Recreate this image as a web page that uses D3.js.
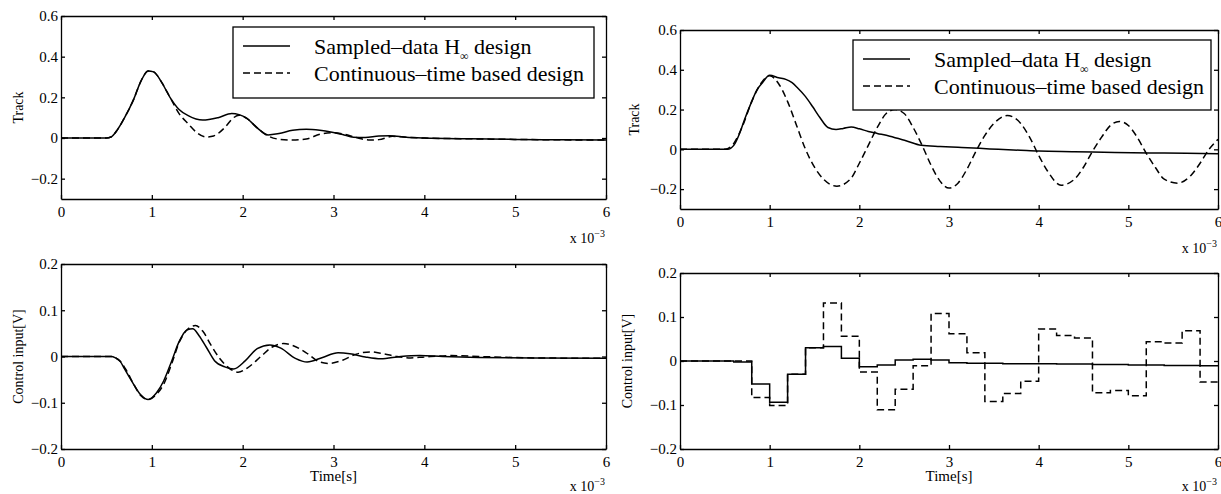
<html>
  <head>
    <script src="https://cdn.jsdelivr.net/npm/d3@7"></script>
  </head>
  <style type="text/css">
    body { margin: 0; background: #fff; }
    svg { font-family: "Liberation Serif", "DejaVu Serif", serif; }
    .axis path, .axis line { stroke: #000; stroke-width: 1.3; }
    .axis text { font-family: "Liberation Serif", serif; font-size: 15px; fill: #000; }
    .line { fill: none; stroke: #000; stroke-width: 1.5; }
    .dashed { stroke-dasharray: 7,4; }
    .lab { font-size: 14px; fill: #000; }
    .leg { font-size: 22px; fill: #000; }
  </style>
  <body>
    <div id="chart"></div>
  </body>
  <script type="text/javascript">
    // time axis in units of 1e-3 s
    var xTicks = [0, 1, 2, 3, 4, 5, 6];
    var trackTicks = [-0.2, 0, 0.2, 0.4, 0.6];
    var ctrlTicks = [-0.2, -0.1, 0, 0.1, 0.2];
    var legendNames = ["Sampled–data H", "Continuous–time based design"];

    /* top left: track, sampled-data design */
    var tlSampledT = [0, 0.5, 0.55, 0.62, 0.7, 0.8, 0.88, 0.96, 1.02, 1.1, 1.2, 1.3, 1.4, 1.56, 1.73, 1.88, 1.96, 2.05, 2.16, 2.28, 2.4, 2.55, 2.7, 2.85, 2.97, 3.1, 3.22, 3.35, 3.5, 3.62, 3.8, 4.0, 4.5, 5.0, 5.5, 6.0];
    var tlSampledV = [0, 0, 0.005, 0.04, 0.1, 0.19, 0.28, 0.33, 0.325, 0.28, 0.2, 0.14, 0.11, 0.088, 0.1, 0.12, 0.115, 0.095, 0.05, 0.015, 0.022, 0.038, 0.043, 0.038, 0.03, 0.017, 0.004, 0.003, 0.01, 0.011, 0.004, 0.0, -0.004, -0.007, -0.009, -0.01];
    /* top left: continuous-time based design */
    var tlContT = [0, 0.5, 0.55, 0.62, 0.7, 0.8, 0.88, 0.96, 1.02, 1.1, 1.2, 1.3, 1.4, 1.5, 1.6, 1.68, 1.8, 1.9, 1.96, 2.05, 2.16, 2.28, 2.4, 2.55, 2.7, 2.85, 3.0, 3.12, 3.25, 3.4, 3.5, 3.65, 3.8, 4.0, 4.5, 5.0, 5.5, 6.0];
    var tlContV = [0, 0, 0.005, 0.04, 0.1, 0.19, 0.28, 0.33, 0.325, 0.28, 0.2, 0.12, 0.07, 0.025, 0.005, 0.01, 0.05, 0.1, 0.112, 0.095, 0.05, 0.01, -0.006, -0.01, -0.005, 0.018, 0.026, 0.018, 0.002, -0.01, -0.008, 0.008, 0.004, 0.0, -0.004, -0.007, -0.009, -0.01];

    /* top right */
    var trSampledT = [0, 0.53, 0.6, 0.66, 0.72, 0.79, 0.86, 0.92, 1.0, 1.1, 1.18, 1.25, 1.31, 1.4, 1.48, 1.56, 1.65, 1.74, 1.82, 1.91, 2.0, 2.1, 2.2, 2.34, 2.52, 2.69, 2.9, 3.1, 3.34, 3.55, 3.8, 4.0, 4.4, 4.85, 5.4, 6.0];
    var trSampledV = [0, 0, 0.02, 0.075, 0.15, 0.23, 0.3, 0.335, 0.372, 0.36, 0.352, 0.335, 0.31, 0.265, 0.214, 0.16, 0.11, 0.1, 0.105, 0.112, 0.103, 0.09, 0.08, 0.066, 0.043, 0.02, 0.014, 0.01, 0.005, 0.0, -0.005, -0.009, -0.012, -0.016, -0.019, -0.022];
    var trContT = [0, 0.5, 0.6, 0.7, 0.8, 0.9, 1.0, 1.1, 1.2, 1.3, 1.4, 1.5, 1.6, 1.75, 1.9, 2.0, 2.1, 2.2, 2.3, 2.4, 2.5, 2.6, 2.7, 2.8, 2.9, 3.0, 3.1, 3.2, 3.3, 3.4, 3.5, 3.65, 3.8, 3.9, 4.0, 4.1, 4.25, 4.4, 4.5, 4.6, 4.7, 4.8, 4.9, 5.0, 5.1, 5.2, 5.3, 5.4, 5.55, 5.7, 5.8, 5.9, 6.0];
    var trContV = [0, 0, 0.03, 0.12, 0.24, 0.33, 0.37, 0.33, 0.24, 0.12, 0.0, -0.09, -0.15, -0.185, -0.15, -0.07, 0.02, 0.11, 0.18, 0.2, 0.18, 0.11, 0.02, -0.08, -0.16, -0.195, -0.17, -0.1, -0.01, 0.07, 0.13, 0.17, 0.13, 0.06, -0.03, -0.11, -0.18, -0.15, -0.09, -0.01, 0.06, 0.12, 0.14, 0.12, 0.06, -0.02, -0.09, -0.15, -0.17, -0.13, -0.07, 0.0, 0.05];

    /* bottom left: control input */
    var blSampledT = [0, 0.55, 0.6, 0.65, 0.7, 0.79, 0.875, 0.96, 1.05, 1.13, 1.22, 1.3, 1.39, 1.45, 1.52, 1.6, 1.69, 1.81, 1.9, 2.03, 2.16, 2.3, 2.42, 2.58, 2.71, 2.88, 3.05, 3.18, 3.35, 3.52, 3.74, 3.95, 4.2, 4.6, 5.2, 6.0];
    var blSampledV = [0, 0, -0.003, -0.01, -0.027, -0.057, -0.082, -0.093, -0.079, -0.053, -0.009, 0.032, 0.058, 0.06, 0.045, 0.02, -0.009, -0.023, -0.027, -0.009, 0.017, 0.025, 0.018, -0.004, -0.012, -0.002, 0.008, 0.006, -0.001, -0.005, 0.0, 0.002, 0.0, -0.002, -0.003, -0.004];
    var blContT = [0, 0.55, 0.6, 0.65, 0.72, 0.8, 0.88, 0.96, 1.05, 1.13, 1.22, 1.3, 1.4, 1.48, 1.56, 1.65, 1.75, 1.85, 1.95, 2.05, 2.2, 2.32, 2.45, 2.55, 2.7, 2.85, 2.95, 3.1, 3.25, 3.4, 3.55, 3.7, 3.85, 4.0, 4.3, 4.6, 5.2, 6.0];
    var blContV = [0, 0, -0.003, -0.01, -0.03, -0.06, -0.085, -0.093, -0.082, -0.06, -0.015, 0.03, 0.06, 0.067, 0.055, 0.025, -0.005, -0.025, -0.034, -0.025, 0.0, 0.02, 0.028, 0.024, 0.008, -0.012, -0.015, -0.008, 0.005, 0.01, 0.006, 0.0, -0.003, -0.001, 0.002, 0.0, -0.003, -0.004];

    /* bottom right: zero-order hold, one value per 0.2e-3 s sample */
    var brStepT = [0, 0.2, 0.4, 0.6, 0.8, 1.0, 1.2, 1.4, 1.6, 1.8, 2.0, 2.2, 2.4, 2.6, 2.8, 3.0, 3.2, 3.4, 3.6, 3.8, 4.0, 4.2, 4.4, 4.6, 4.8, 5.0, 5.2, 5.4, 5.6, 5.8, 6.0];
    var brSampledV = [0, 0, 0, -0.002, -0.052, -0.094, -0.03, 0.03, 0.033, 0.006, -0.013, -0.009, 0.002, 0.004, 0.002, -0.004, -0.005, -0.005, -0.006, -0.006, -0.006, -0.007, -0.007, -0.008, -0.008, -0.009, -0.009, -0.01, -0.01, -0.011, -0.011];
    var brContV = [0, 0, 0, 0, -0.083, -0.101, -0.03, 0.03, 0.132, 0.056, -0.025, -0.111, -0.064, -0.011, 0.108, 0.062, 0.019, -0.092, -0.074, -0.046, 0.073, 0.058, 0.052, -0.072, -0.067, -0.079, 0.044, 0.041, 0.069, -0.048, -0.048];

    var width = 1221;
    var height = 494;

    function zip(t, v) {
      return t.map(function(d, i) { return {t: d, v: v[i]}; });
    }

    var panels = [
      {x0: 61, x1: 606, y0: 16, y1: 199, dom: [-0.3, 0.6], yTicks: trackTicks, ylab: "Track", ylabX: 18,
       curve: d3.curveMonotoneX, xlab: false, legend: {x: 233, y: 27, w: 361, h: 71},
       series: [zip(tlSampledT, tlSampledV), zip(tlContT, tlContV)]},
      {x0: 680, x1: 1218, y0: 30, y1: 209, dom: [-0.3, 0.6], yTicks: trackTicks, ylab: "Track", ylabX: 634,
       curve: d3.curveMonotoneX, xlab: false, legend: {x: 853, y: 40, w: 358, h: 70},
       series: [zip(trSampledT, trSampledV), zip(trContT, trContV)]},
      {x0: 61, x1: 606, y0: 264, y1: 449, dom: [-0.2, 0.2], yTicks: ctrlTicks, ylab: "Control input[V]", ylabX: 18,
       curve: d3.curveMonotoneX, xlab: true,
       series: [zip(blSampledT, blSampledV), zip(blContT, blContV)]},
      {x0: 680, x1: 1218, y0: 273, y1: 449, dom: [-0.2, 0.2], yTicks: ctrlTicks, ylab: "Control input[V]", ylabX: 627,
       curve: d3.curveStepAfter, xlab: true,
       series: [zip(brStepT, brSampledV), zip(brStepT, brContV)]}
    ];

    var svg = d3.select("#chart").append("svg")
      .attr("width", width)
      .attr("height", height);

    var yFmt = function(d) { return d === 0 ? "0" : d3.format(".1f")(d); };

    panels.forEach(function(p) {
      var x = d3.scaleLinear().domain([0, 6]).range([p.x0, p.x1]);
      var y = d3.scaleLinear().domain(p.dom).range([p.y1, p.y0]);
      var g = svg.append("g");

      // box with inward ticks on all four sides
      g.append("g").attr("class", "axis")
        .attr("transform", "translate(0," + p.y1 + ")")
        .call(d3.axisBottom(x).tickValues(xTicks).tickSize(-4).tickSizeOuter(0).tickPadding(7).tickFormat(d3.format("d")));
      g.append("g").attr("class", "axis")
        .attr("transform", "translate(0," + p.y0 + ")")
        .call(d3.axisTop(x).tickValues(xTicks).tickSize(-4).tickSizeOuter(0).tickFormat(""));
      g.append("g").attr("class", "axis")
        .attr("transform", "translate(" + p.x0 + ",0)")
        .call(d3.axisLeft(y).tickValues(p.yTicks).tickSize(-4).tickSizeOuter(0).tickPadding(3).tickFormat(yFmt));
      g.append("g").attr("class", "axis")
        .attr("transform", "translate(" + p.x1 + ",0)")
        .call(d3.axisRight(y).tickValues(p.yTicks).tickSize(-4).tickSizeOuter(0).tickFormat(""));

      var line = d3.line()
        .x(function(d) { return x(d.t); })
        .y(function(d) { return y(d.v); })
        .curve(p.curve);

      g.append("path").attr("class", "line").attr("d", line(p.series[0]));
      g.append("path").attr("class", "line dashed").attr("d", line(p.series[1]));

      // y label
      g.append("text").attr("class", "lab")
        .attr("text-anchor", "middle")
        .attr("transform", "translate(" + p.ylabX + "," + ((p.y0 + p.y1) / 2) + ") rotate(-90)")
        .attr("dy", "0.35em")
        .text(p.ylab);

      // x 10^-3 multiplier
      var m = g.append("text").attr("class", "lab")
        .attr("text-anchor", "end")
        .attr("x", p.x1 - 1)
        .attr("y", p.y1 + (p.xlab ? 42 : 44));
      m.append("tspan").text("x 10");
      m.append("tspan").attr("dy", -6).style("font-size", "10px").text("−3");

      if (p.xlab) {
        g.append("text").attr("class", "lab")
          .attr("text-anchor", "middle")
          .attr("x", (p.x0 + p.x1) / 2)
          .attr("y", p.y1 + 32)
          .style("font-size", "15px")
          .text("Time[s]");
      }

      if (p.legend) {
        var L = p.legend;
        var lg = g.append("g");
        lg.append("rect")
          .attr("x", L.x).attr("y", L.y).attr("width", L.w).attr("height", L.h)
          .attr("fill", "#fff").attr("stroke", "#000").attr("stroke-width", 1.3);
        [0, 1].forEach(function(i) {
          var ry = L.y + 19 + i * 27;
          lg.append("line")
            .attr("class", i ? "line dashed" : "line")
            .attr("x1", L.x + 10).attr("x2", L.x + 57)
            .attr("y1", ry).attr("y2", ry);
          var t = lg.append("text").attr("class", "leg")
            .attr("x", L.x + 81).attr("y", ry).attr("dy", "0.35em");
          t.append("tspan").text(legendNames[i]);
          if (i === 0) {
            t.append("tspan").attr("dy", 6).style("font-size", "12px").text("∞");
            t.append("tspan").attr("dy", -6).text(" design");
          }
        });
      }
    });
  </script>
</html>
